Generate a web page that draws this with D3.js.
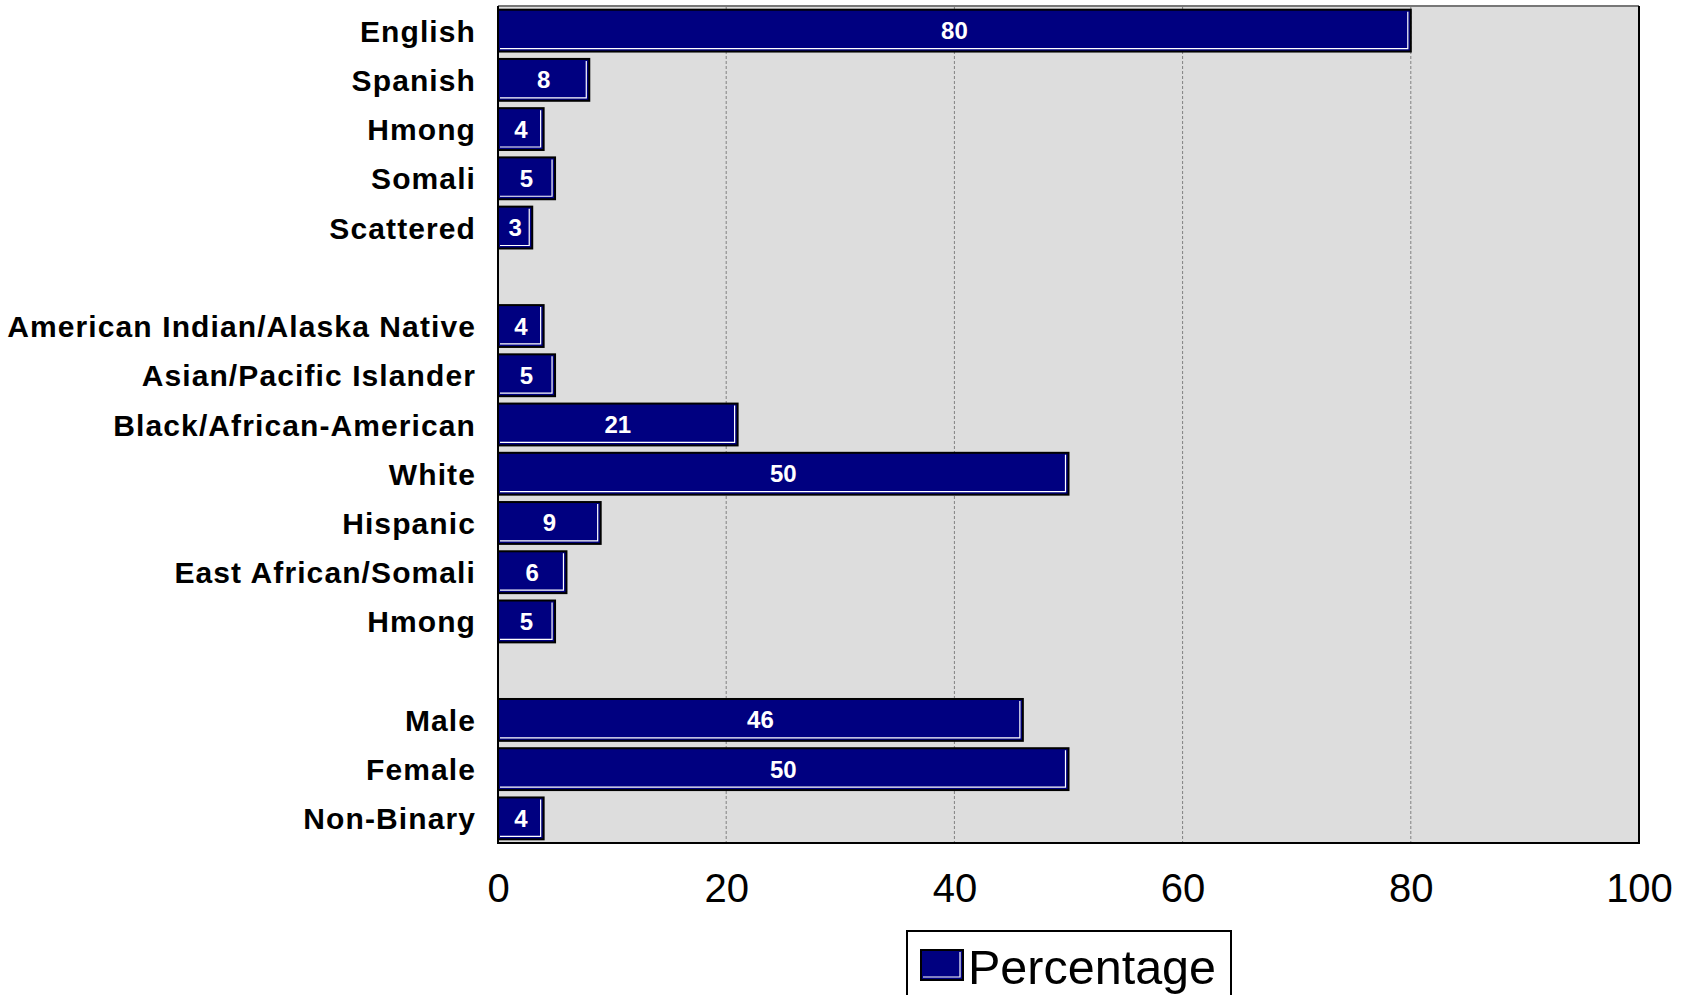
<!DOCTYPE html>
<html>
<head>
<meta charset="utf-8">
<script src="https://cdn.jsdelivr.net/npm/d3@7"></script>
<style>
  html, body { margin: 0; padding: 0; background: #ffffff; }
  svg { display: block; }
</style>
</head>
<body>
<svg id="chart" width="1692" height="995"></svg>
<script>
const categories = ["English","Spanish","Hmong","Somali","Scattered","",
  "American Indian/Alaska Native","Asian/Pacific Islander","Black/African-American","White","Hispanic","East African/Somali","Hmong","",
  "Male","Female","Non-Binary"];
const values = [80, 8, 4, 5, 3, null, 4, 5, 21, 50, 9, 6, 5, null, 46, 50, 4];
const xTicks = [0, 20, 40, 60, 80, 100];
const seriesName = "Percentage";

(function () {
const svg = d3.select("#chart");
const pL = 498, pR = 1639, pT = 6, pB = 843;
const navy = "#000080";

const x = d3.scaleLinear().domain([0, 100]).range([pL, pR]);
const y = d3.scaleBand().domain(d3.range(categories.length)).range([pT, pB])
  .paddingInner(0.15).paddingOuter(0.075);

// plot background
svg.append("rect").attr("x", pL).attr("y", pT).attr("width", pR - pL).attr("height", pB - pT)
  .attr("fill", "#dddddd");

// gridlines
svg.append("g").selectAll("line").data(xTicks.filter(t => t > 0 && t < 100)).join("line")
  .attr("x1", d => x(d)).attr("x2", d => x(d)).attr("y1", pT).attr("y2", pB)
  .attr("stroke", "#808080").attr("stroke-width", 1).attr("stroke-dasharray", "3,2");

// bars
const rows = categories.map((c, i) => ({c, v: values[i], i})).filter(d => d.v != null);
const bars = svg.append("g");
bars.selectAll("rect").data(rows).join("rect")
  .attr("x", x(0)).attr("y", d => y(d.i))
  .attr("width", d => x(d.v) - x(0)).attr("height", y.bandwidth())
  .attr("fill", navy).attr("stroke", "#000").attr("stroke-width", 2);
bars.selectAll("polyline").data(rows).join("polyline")
  .attr("points", d => {
    const x0 = x(0) + 2, x1 = x(d.v) - 3, y0 = y(d.i) + 2, y1 = y(d.i) + y.bandwidth() - 3;
    return `${x0},${y1} ${x1},${y1} ${x1},${y0}`;
  })
  .attr("fill", "none").attr("stroke", "#ffffff").attr("stroke-width", 1.2);

// value labels
svg.append("g").selectAll("text").data(rows).join("text")
  .attr("x", d => (x(0) + x(d.v)) / 2)
  .attr("y", d => y(d.i) + y.bandwidth() / 2 + 8.5)
  .attr("text-anchor", "middle")
  .attr("font-family", "Liberation Sans, Arial, sans-serif")
  .attr("font-weight", "bold").attr("font-size", 24).attr("fill", "#ffffff")
  .text(d => d.v);

// plot border
svg.append("line").attr("x1", pL).attr("x2", pR).attr("y1", pT).attr("y2", pT)
  .attr("stroke", "#777").attr("stroke-width", 2);
svg.append("polyline")
  .attr("points", `${pL},${pT} ${pL},${pB} ${pR},${pB} ${pR},${pT}`)
  .attr("fill", "none").attr("stroke", "#000").attr("stroke-width", 2);

// category labels
svg.append("g").selectAll("text").data(categories.map((c, i) => ({c, i})).filter(d => d.c)).join("text")
  .attr("x", 476)
  .attr("y", d => y(d.i) + y.bandwidth() / 2 + 11)
  .attr("text-anchor", "end")
  .attr("font-family", "Liberation Sans, Arial, sans-serif")
  .attr("font-weight", "bold").attr("font-size", 30).attr("letter-spacing", "1.1px")
  .attr("fill", "#000")
  .text(d => d.c);

// x axis
const xAxis = svg.append("g").attr("transform", `translate(0,${pB})`)
  .call(d3.axisBottom(x).tickValues(xTicks).tickSize(0).tickPadding(0).tickFormat(d3.format("d")));
xAxis.select(".domain").remove();
xAxis.selectAll("text")
  .attr("y", 59).attr("dy", null)
  .attr("font-family", "Liberation Sans, Arial, sans-serif")
  .attr("font-size", 40).attr("fill", "#000");

// legend
const lg = svg.append("g");
lg.append("rect").attr("x", 907).attr("y", 931).attr("width", 324).attr("height", 90)
  .attr("fill", "#fff").attr("stroke", "#000").attr("stroke-width", 2);
lg.append("rect").attr("x", 921).attr("y", 950).attr("width", 42).attr("height", 30)
  .attr("fill", navy).attr("stroke", "#000").attr("stroke-width", 2);
lg.append("polyline").attr("points", "923,977 960,977 960,952")
  .attr("fill", "none").attr("stroke", "#fff").attr("stroke-width", 1.2);
lg.append("text").attr("x", 968).attr("y", 984)
  .attr("font-family", "Liberation Sans, Arial, sans-serif")
  .attr("font-size", 48.5).attr("fill", "#000")
  .text(seriesName);
})();
</script>
</body>
</html>
